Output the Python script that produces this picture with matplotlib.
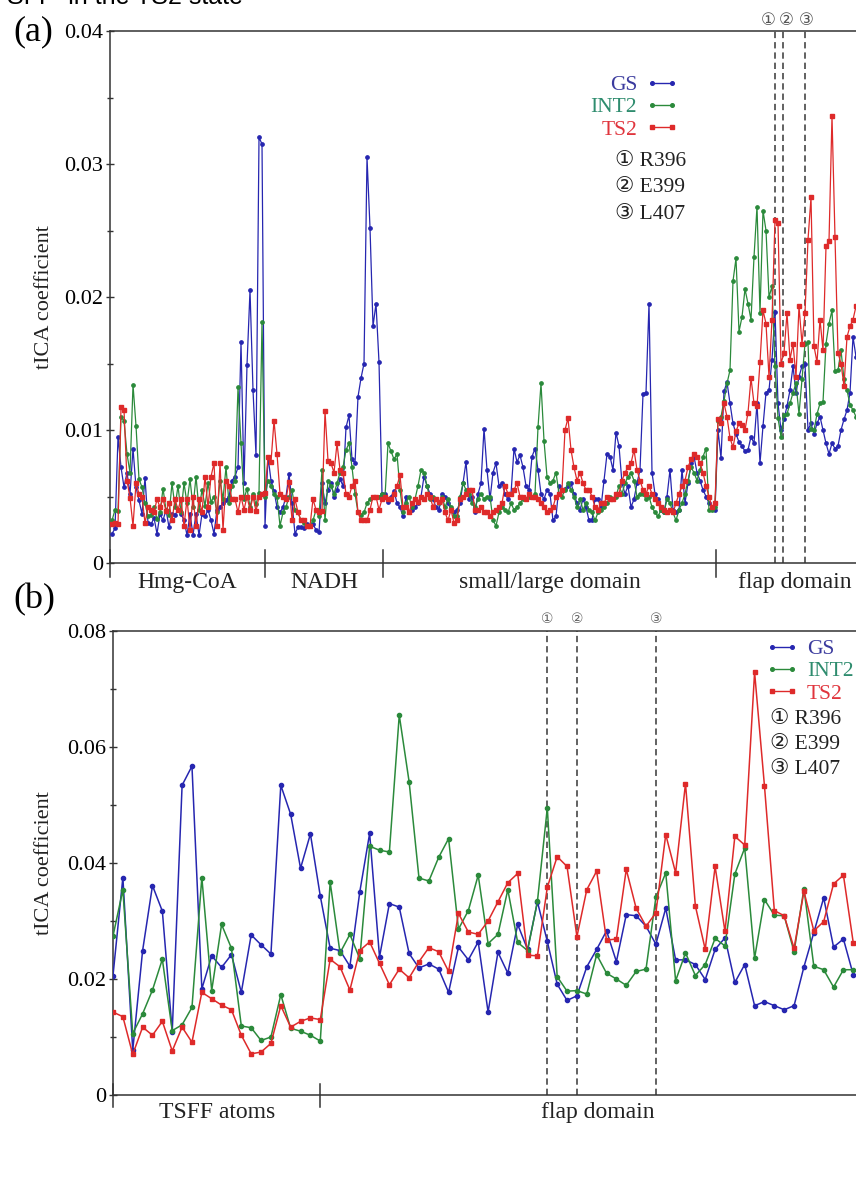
import numpy as np
import matplotlib
matplotlib.use('Agg')
import matplotlib.pyplot as plt
from matplotlib.ticker import MultipleLocator, FuncFormatter
from matplotlib.transforms import blended_transform_factory
from matplotlib.lines import Line2D

plt.rcParams['font.family'] = ['Liberation Serif', 'DejaVu Sans']

# ---------------- panel (a) : tICA coefficients (units of 1e-3) ----------------
gs_a_hmg = [2.2, 2.6, 9.5, 7.2, 5.7, 6.8, 5.2, 8.6, 5.7, 4.7,
            3.7, 6.4, 3.0, 2.9, 3.4, 2.2, 3.7, 3.2, 4.0, 2.7,
            3.7, 3.6, 4.0, 3.7, 3.2, 2.1, 3.7, 2.1, 3.7, 2.1,
            3.7, 3.5, 4.0, 3.2, 2.2, 4.0, 4.2, 4.5, 4.7, 5.0,
            6.2, 6.5, 7.2, 16.6, 6.0, 14.9, 20.5, 13.0, 8.1, 32.0,
            31.5, 2.8]
gs_a_nadh = [8.0, 6.2, 5.4, 4.2, 3.8, 4.2, 5.0, 6.7, 4.5, 2.2,
             2.7, 2.7, 2.6, 2.9, 2.8, 2.9, 2.5, 2.3, 6.0, 4.5,
             5.5, 6.0, 5.0, 5.5, 6.3, 5.8, 10.2, 11.1, 7.8, 7.5,
             12.5, 13.9, 15.0, 30.5, 25.2, 17.8, 19.5, 15.1, 5.2]
gs_a_dom = [5.2, 4.6, 5.0, 5.4, 4.5, 4.2, 3.5, 5.0, 3.8, 4.0,
            4.2, 4.5, 5.0, 6.5, 5.8, 5.2, 4.8, 4.2, 4.0,
            5.2, 5.0, 4.5, 4.0, 3.8, 4.0, 4.5, 6.0, 7.6, 4.8,
            5.0, 3.8, 5.2, 6.0, 10.1, 7.0, 4.8, 6.8, 7.5, 5.8,
            6.0, 5.2, 4.8, 5.2, 8.6, 7.6, 8.1, 7.2, 5.8, 5.5,
            8.0, 8.6, 7.0, 5.2, 4.8, 5.5, 5.2, 3.2, 3.5, 5.8,
            5.5, 5.6, 5.8, 6.0, 5.2, 4.5, 4.0, 4.8, 4.2, 3.2,
            3.2, 4.8, 4.8, 4.2, 6.2, 8.2, 8.0, 7.0, 9.8, 8.8,
            6.0, 5.2, 5.8, 4.2, 4.8, 6.0, 7.0, 12.7, 12.8, 19.5,
            6.8, 5.2, 4.8, 4.0, 3.8, 5.0, 7.0, 4.0, 3.8, 4.0,
            7.0, 4.5, 6.0, 7.5, 8.0, 6.8, 6.2, 5.5, 5.0, 4.5,
            4.2, 4.0]
gs_a_flap = [10.0, 7.9, 12.9, 13.6, 12.0, 10.5, 9.7, 9.1, 8.8, 8.4,
             8.5, 9.5, 9.0, 12.0, 7.5, 10.3, 12.8, 13.0, 15.3, 18.9,
             12.0, 10.0, 10.8, 11.8, 13.0, 14.8, 12.8, 14.0, 14.8, 15.0,
             10.0, 10.5, 9.7, 10.5, 11.0, 10.0, 9.0, 8.2, 9.0, 8.6,
             8.8, 10.0, 10.8, 11.5, 12.8, 17.0, 15.5]

int2_a_hmg = [3.2, 4.0, 3.9, 11.0, 10.7, 8.2, 6.8, 13.4, 10.3, 6.3,
              5.7, 4.5, 3.5, 3.6, 4.2, 3.3, 3.8, 5.6, 4.0, 3.6,
              6.0, 4.2, 5.8, 3.8, 6.0, 4.5, 6.3, 4.2, 6.5, 4.0,
              5.5, 4.3, 6.0, 4.6, 5.0, 3.8, 6.2, 4.8, 7.2, 4.5,
              5.8, 6.2, 13.2, 9.0, 4.8, 5.6, 4.2, 5.2, 4.4, 5.3,
              18.1, 5.0]
int2_a_nadh = [6.2, 5.8, 5.2, 5.0, 2.8, 3.8, 4.2, 5.0, 5.5, 4.0,
               3.8, 3.2, 3.0, 2.8, 2.8, 3.2, 4.0, 3.5, 7.0, 3.2,
               6.2, 5.8, 5.2, 6.0, 6.8, 7.2, 8.5, 9.0, 7.2, 5.2,
               3.8, 3.6, 3.8, 4.5, 4.8, 5.0, 5.0, 5.0, 5.2]
int2_a_dom = [5.0, 9.0, 8.4, 7.8, 8.2, 5.5, 3.8, 4.5, 5.0, 4.2,
              4.8, 5.8, 7.0, 6.8, 5.8, 4.8, 5.0, 4.8, 4.5,
              5.0, 4.2, 4.8, 4.2, 3.5, 3.5, 5.0, 6.0, 5.5, 5.2,
              4.5, 4.2, 4.8, 5.2, 4.8, 5.0, 5.0, 3.2, 2.8, 3.8,
              4.2, 4.0, 3.8, 4.5, 4.0, 4.2, 4.5, 4.8, 4.8, 5.0,
              5.0, 5.2, 10.2, 13.5, 9.2, 6.5, 6.0, 6.2, 6.8, 5.2,
              5.0, 5.5, 6.0, 5.5, 5.0, 4.2, 4.8, 4.0, 4.5, 4.0,
              3.8, 3.2, 3.8, 4.0, 4.2, 4.5, 5.0, 4.8, 5.0, 5.8,
              5.2, 6.0, 6.5, 6.8, 6.2, 5.0, 5.2, 5.2, 4.8, 5.0,
              4.2, 3.8, 3.5, 4.0, 3.8, 4.8, 4.5, 3.8, 3.2, 4.0,
              4.5, 5.2, 6.2, 7.2, 6.8, 6.2, 7.0, 8.0, 8.6, 4.0,
              4.0, 4.2]
int2_a_flap = [10.7, 11.0, 12.2, 13.5, 14.5, 21.2, 22.9, 17.4, 18.5, 20.6,
               19.5, 18.3, 23.0, 26.8, 18.8, 26.5, 25.0, 20.0, 20.8, 14.8,
               10.9, 9.5, 11.1, 11.2, 12.0, 12.8, 13.5, 11.2, 13.8, 16.5,
               16.6, 10.1, 10.0, 11.2, 12.0, 12.1, 16.5, 18.0, 19.0, 14.4,
               14.5, 16.0, 13.8, 13.0, 11.9, 11.5, 11.0]

ts2_a_hmg = [2.9, 3.0, 2.9, 11.7, 11.5, 6.2, 4.9, 2.8, 6.0, 5.2,
             5.0, 3.0, 4.2, 4.0, 3.8, 4.8, 4.2, 4.8, 3.9, 4.5,
             3.2, 4.8, 4.0, 4.8, 2.8, 4.8, 2.5, 5.0, 2.8, 4.8,
             3.8, 6.5, 4.2, 6.5, 7.5, 2.8, 7.5, 2.5, 6.2, 5.8,
             4.8, 4.8, 3.8, 5.0, 4.0, 5.0, 4.0, 5.0, 3.9, 5.0,
             5.2, 5.3]
ts2_a_nadh = [8.0, 7.6, 10.7, 8.2, 5.2, 5.0, 4.8, 6.1, 3.2, 4.8,
              3.8, 3.2, 3.2, 2.8, 2.8, 4.8, 4.0, 3.8, 3.9, 11.4,
              7.7, 7.5, 6.8, 9.0, 7.0, 6.8, 5.2, 5.0, 5.8, 6.2,
              3.8, 3.2, 3.2, 3.2, 4.0, 5.0, 5.0, 4.0, 4.8]
ts2_a_dom = [5.0, 4.8, 4.8, 5.2, 5.8, 6.6, 4.2, 4.2, 3.8, 4.5,
             4.8, 4.6, 5.0, 4.8, 5.2, 5.0, 4.2, 4.8, 4.6,
             4.8, 3.8, 3.2, 4.0, 3.0, 3.2, 4.8, 5.0, 5.2, 5.5,
             5.5, 4.0, 4.0, 4.2, 3.8, 3.8, 3.5, 3.8, 4.0, 4.2,
             4.5, 5.8, 5.2, 5.2, 5.5, 6.0, 5.0, 5.0, 4.8, 5.2,
             5.0, 5.0, 4.8, 4.5, 4.2, 3.8, 4.0, 4.2, 5.0, 5.2,
             5.5, 10.0, 10.9, 8.5, 7.2, 6.2, 6.8, 6.0, 5.5, 5.5,
             5.0, 4.2, 4.0, 4.5, 4.5, 5.0, 4.8, 4.8, 5.2, 5.2,
             6.2, 6.8, 7.2, 7.5, 8.5, 7.0, 6.2, 5.5, 5.2, 5.8,
             5.2, 4.8, 4.5, 4.2, 4.0, 3.8, 4.0, 3.8, 4.5, 5.2,
             5.8, 6.2, 7.2, 7.8, 8.2, 8.0, 7.5, 6.8, 5.8, 5.0,
             4.2, 4.5]
ts2_a_flap = [10.8, 10.5, 12.0, 11.0, 9.4, 8.7, 9.9, 10.5, 10.4, 10.0,
              11.3, 13.9, 12.0, 11.8, 15.1, 19.0, 18.0, 14.0, 18.3, 25.8,
              25.6, 15.0, 15.8, 18.8, 15.3, 16.5, 14.0, 19.3, 16.5, 18.8,
              24.3, 27.5, 16.3, 15.1, 18.3, 16.0, 23.8, 24.2, 33.6, 24.5,
              15.8, 15.0, 13.3, 17.0, 17.8, 18.3, 19.3]

a_regions = ['Hmg-CoA', 'NADH', 'small/large domain', 'flap domain']
a_bounds = [51, 90.3, 201.3]
a_res_pos = [221.1, 223.6, 230.9]

# ---------------- panel (b) ----------------
gs_b = [20.6, 37.5, 7.7, 24.9, 36.1, 31.7, 10.9, 53.4, 56.7, 18.3,
        24.0, 22.0, 24.2, 17.7, 27.6, 25.9, 24.3, 53.4, 48.4, 39.1,
        45.0, 34.3, 25.3, 24.9, 22.2, 35.0, 45.1, 23.8, 33.0, 32.4,
        24.4, 21.9, 22.6, 21.7, 17.7, 25.5, 23.3, 26.4, 14.3, 24.6,
        21.0, 29.4, 25.1, 33.3, 26.5, 19.1, 16.3, 17.1, 22.1, 25.1,
        28.3, 23.0, 31.1, 30.9, 29.1, 26.0, 32.2, 23.3, 23.3, 22.5,
        19.9, 25.1, 27.1, 19.4, 22.5, 15.4, 16.1, 15.4, 14.7, 15.4,
        22.1, 28.0, 34.0, 25.5, 26.9, 20.7]
int2_b = [27.4, 35.4, 10.6, 14.0, 18.1, 23.4, 11.1, 12.1, 15.1, 37.5,
          18.0, 29.4, 25.3, 11.9, 11.6, 9.4, 10.0, 17.3, 11.5, 11.0,
          10.3, 9.3, 36.7, 24.5, 27.7, 23.5, 42.9, 42.2, 41.9, 65.5,
          54.0, 37.4, 36.9, 41.0, 44.2, 28.6, 31.8, 37.9, 26.1, 27.7,
          35.4, 26.3, 24.9, 33.4, 49.5, 20.4, 17.9, 18.0, 17.4, 24.2,
          21.0, 20.0, 18.9, 21.3, 21.7, 34.1, 38.3, 19.7, 24.5, 20.6,
          22.5, 27.0, 25.7, 38.1, 42.6, 23.6, 33.7, 31.0, 30.9, 24.7,
          35.6, 22.2, 21.6, 18.6, 21.6, 21.6]
ts2_b = [14.3, 13.5, 7.0, 11.7, 10.3, 12.7, 7.6, 11.7, 9.1, 17.7,
         16.6, 15.5, 14.7, 10.3, 7.1, 7.4, 8.9, 15.4, 11.7, 12.7,
         13.3, 13.0, 23.4, 22.1, 18.1, 24.9, 26.4, 22.7, 19.0, 21.7,
         20.2, 23.0, 25.4, 24.7, 21.3, 31.3, 28.1, 27.7, 30.0, 33.3,
         36.6, 38.2, 24.1, 24.0, 35.8, 41.1, 39.4, 27.3, 35.4, 38.6,
         26.7, 26.9, 38.9, 32.2, 29.1, 31.4, 44.9, 38.3, 53.7, 32.6,
         25.1, 39.4, 28.2, 44.6, 43.1, 72.9, 53.3, 31.8, 30.9, 25.3,
         35.1, 28.3, 29.9, 36.4, 37.9, 26.2]

b_regions = ['TSFF atoms', 'flap domain']
b_bounds = [21]
b_res_pos = [44, 47, 55]

names = ['GS', 'INT2', 'TS2']
res_names = ['R396', 'E399', 'L407']
circ = ['\u2460', '\u2461', '\u2462']
colors = ['#2626b0', '#2b8a3b', '#de2a2a']
text_colors = ['#3b3b9e', '#2e8c6e', '#e0353d']
markers = ['o', 'o', 's']

gs_a = gs_a_hmg + gs_a_nadh + gs_a_dom + gs_a_flap
int2_a = int2_a_hmg + int2_a_nadh + int2_a_dom + int2_a_flap
ts2_a = ts2_a_hmg + ts2_a_nadh + ts2_a_dom + ts2_a_flap

W, H = 856, 1194
fig = plt.figure(figsize=(W / 100, H / 100), dpi=100)

ax1 = fig.add_axes([110 / W, 1 - 563 / H, 764 / W, 532 / H])
ax2 = fig.add_axes([113 / W, 1 - 1095 / H, 763 / W, 464 / H])

fmt = FuncFormatter(lambda v, p: '0' if abs(v) < 1e-9 else '%.2f' % (v / 1000))


def style(ax, xlim, ylim, major, minor, bounds, regions, ytxt):
    ax.set_xlim(*xlim)
    ax.set_ylim(*ylim)
    ax.set_xticks([])
    ax.yaxis.set_major_locator(MultipleLocator(major))
    ax.yaxis.set_minor_locator(MultipleLocator(minor))
    ax.yaxis.set_major_formatter(fmt)
    ax.tick_params(axis='y', which='major', direction='inout', length=6,
                   width=1, labelsize=16, pad=2, color='#333333')
    ax.tick_params(axis='y', which='minor', direction='inout', length=4,
                   width=1, color='#333333')
    for s in ax.spines.values():
        s.set_color('#333333')
        s.set_linewidth(1.1)
    tr = blended_transform_factory(ax.transData, ax.transAxes)
    edges = [xlim[0]] + bounds + [xlim[1]]
    for b in edges[:-1]:
        ax.plot([b, b], [-0.026, 0.024], color='#333333', lw=1.1,
                transform=tr, clip_on=False)
    for i, r in enumerate(regions):
        ax.text((edges[i] + edges[i + 1]) / 2, ytxt, r, transform=tr,
                ha='center', va='center', fontsize=17, color='#222222')
    ax.set_ylabel('tICA coefficient', fontsize=16, color='#222222')


style(ax1, (-0.67, 254), (0, 40), 10, 5, a_bounds, a_regions, -0.036)
style(ax2, (0, 77.3), (0, 80), 20, 10, b_bounds, b_regions, -0.037)
ax1.yaxis.set_label_coords(-0.073, 0.5)
ax2.yaxis.set_label_coords(-0.077, 0.5)

# data lines
for ys, c, m in zip([gs_a, int2_a, ts2_a], colors, markers):
    ax1.plot(np.arange(len(ys)), ys, color=c, lw=0.9, marker=m, ms=2.4,
             mec=c, mfc=c, zorder=3)
for ys, c, m in zip([gs_b, int2_b, ts2_b], colors, markers):
    ax2.plot(np.arange(len(ys)), ys, color=c, lw=1.1, marker=m, ms=3.0,
             mec=c, mfc=c, zorder=3)

# key residues
tr1 = blended_transform_factory(ax1.transData, ax1.transAxes)
tr2 = blended_transform_factory(ax2.transData, ax2.transAxes)
for p in a_res_pos:
    ax1.axvline(p, color='#555555', ls=(0, (3.5, 2.2)), lw=1.3, zorder=2)
for p in b_res_pos:
    ax2.axvline(p, color='#555555', ls=(0, (3.5, 2.2)), lw=1.3, zorder=2)
for p, c, dx in zip(a_res_pos, circ, [-2.3, 1.2, 0.4]):
    ax1.text(p + dx, 1.021, c, transform=tr1, ha='center', va='center',
             fontsize=12, color='#555555', family='DejaVu Sans')
for p, c in zip(b_res_pos, circ):
    ax2.text(p, 1.026, c, transform=tr2, ha='center', va='center',
             fontsize=10, color='#666666', family='DejaVu Sans')

# legends
handles = [Line2D([], [], color=c, marker=m, ms=2.6, lw=1.0, mfc=c, mec=c)
           for c, m in zip(colors, markers)]
leg1 = ax1.legend(handles, names, loc='upper right',
                  bbox_to_anchor=(678 / W, 1 - 75 / H), bbox_transform=fig.transFigure,
                  frameon=False, markerfirst=False, numpoints=2, handlelength=1.5,
                  handletextpad=0.4, labelspacing=0.1, borderpad=0, borderaxespad=0,
                  fontsize=15.5)
for t, c in zip(leg1.get_texts(), text_colors):
    t.set_color(c)
leg2 = ax2.legend(handles, names, loc='upper left',
                  bbox_to_anchor=(766 / W, 1 - 639 / H), bbox_transform=fig.transFigure,
                  frameon=False, markerfirst=True, numpoints=2, handlelength=1.5,
                  handletextpad=0.4, labelspacing=0.1, borderpad=0, borderaxespad=0,
                  fontsize=15.5)
for t, c in zip(leg2.get_texts(), text_colors):
    t.set_color(c)

for i, (c, n) in enumerate(zip(circ, res_names)):
    ax1.text(0.661, 0.7545 - i * 0.0495, c + ' ' + n, transform=ax1.transAxes,
             ha='left', va='center', fontsize=15.5, color='#222222')
    ax2.text(0.861, 0.8085 - i * 0.0539, c + ' ' + n, transform=ax2.transAxes,
             ha='left', va='center', fontsize=15.5, color='#222222')

# panel letters and the cropped caption line
fig.text(13 / W, 1 - 40 / H, '(a)', fontsize=26, va='baseline', ha='left')
fig.text(13 / W, 1 - 608 / H, '(b)', fontsize=26, va='baseline', ha='left')
fig.text(7 / W, 1 - 4 / H, 'SFF  in the TS2 state', fontsize=18, va='baseline',
         ha='left', family='Liberation Sans')

fig.savefig('out.png', dpi=100)
